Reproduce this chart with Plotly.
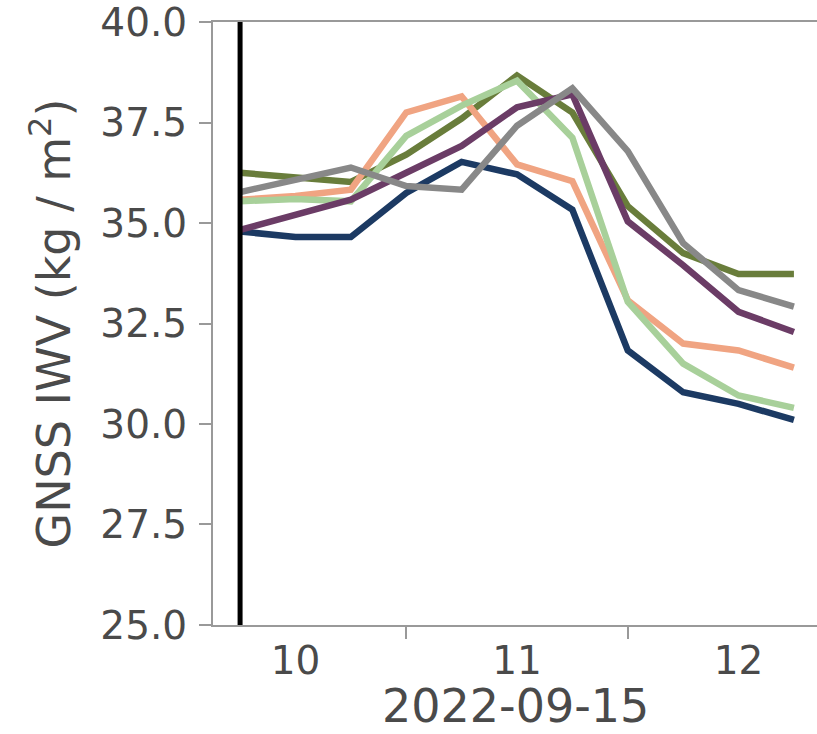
import plotly.graph_objects as go
import pandas as pd

times = pd.date_range("2022-09-15 09:45", "2022-09-15 12:15", freq="15min")

navy = [34.79, 34.65, 34.65, 35.75, 36.52, 36.21, 35.33, 31.83, 30.79, 30.5, 30.1]
salmon = [35.58, 35.67, 35.83, 37.75, 38.15, 36.46, 36.04, 33.08, 32.0, 31.83, 31.4]
lightgreen = [35.54, 35.6, 35.54, 37.17, 37.92, 38.54, 37.12, 33.04, 31.5, 30.71, 30.4]
olive = [36.25, 36.12, 36.02, 36.7, 37.6, 38.67, 37.75, 35.42, 34.25, 33.73, 33.73]
purple = [34.83, 35.2, 35.58, 36.25, 36.92, 37.88, 38.2, 35.04, 33.95, 32.79, 32.29]
gray = [35.77, 36.08, 36.38, 35.92, 35.83, 37.42, 38.35, 36.79, 34.5, 33.33, 32.92]

event_time = "2022-09-15 09:45"
hour_ticks = ["2022-09-15 10:00", "2022-09-15 11:00", "2022-09-15 12:00"]
hour_labels = ["10", "11", "12"]
half_ticks = ["2022-09-15 10:30", "2022-09-15 11:30"]
y_ticks = [25.0, 27.5, 30.0, 32.5, 35.0, 37.5, 40.0]
x_title = "2022-09-15"

series = [
    (olive, "#697d3b"),
    (salmon, "#f0a482"),
    (lightgreen, "#a8d09a"),
    (navy, "#1c3a63"),
    (purple, "#6b3c66"),
    (gray, "#888888"),
]

fig = go.Figure()
for vals, col in series:
    fig.add_trace(go.Scatter(x=times, y=vals, mode="lines",
                             line=dict(color=col, width=6.5), showlegend=False))

fig.add_vline(x=event_time, line=dict(color="black", width=5))

font_fam = "DejaVu Sans"
txt_col = "#4a4a4a"
ax_col = "#999999"

fig.add_annotation(text=x_title, xref="paper", yref="paper", x=0.5, y=0,
                   xanchor="center", yanchor="middle", yshift=-81,
                   showarrow=False, font=dict(size=46, color=txt_col, family=font_fam))

fig.update_layout(
    width=817, height=734,
    margin=dict(l=213, r=0, t=22, b=109),
    paper_bgcolor="white", plot_bgcolor="white",
    font=dict(family=font_fam, color=txt_col),
    xaxis=dict(
        range=["2022-09-15 09:37:40", "2022-09-15 12:21:15"],
        tickmode="array", tickvals=hour_ticks, ticktext=hour_labels,
        ticks="outside", ticklen=0, showgrid=False, zeroline=False,
        showline=True, linecolor=ax_col, linewidth=2, mirror=True,
        tickfont=dict(size=39, color=txt_col),
        ticklabelstandoff=0, automargin=False, ticklabeloverflow="allow",
        minor=dict(tickvals=half_ticks, ticks="outside", ticklen=12,
                   tickwidth=2, tickcolor=ax_col, showgrid=False),
    ),
    yaxis=dict(
        range=[24.999, 40.001], tickmode="array", tickvals=y_ticks,
        ticktext=[f"{v:.1f}" for v in y_ticks],
        ticks="outside", ticklen=12, tickwidth=2, tickcolor=ax_col,
        showgrid=False, zeroline=False,
        showline=True, linecolor=ax_col, linewidth=2, mirror=False,
        tickfont=dict(size=39, color=txt_col),
        ticklabelstandoff=4, automargin=False, ticklabeloverflow="allow",
        title=dict(text="GNSS IWV (kg / m<sup>2</sup>)", font=dict(size=46, color=txt_col), standoff=15),
    ),
)

fig.write_html("out.html")
